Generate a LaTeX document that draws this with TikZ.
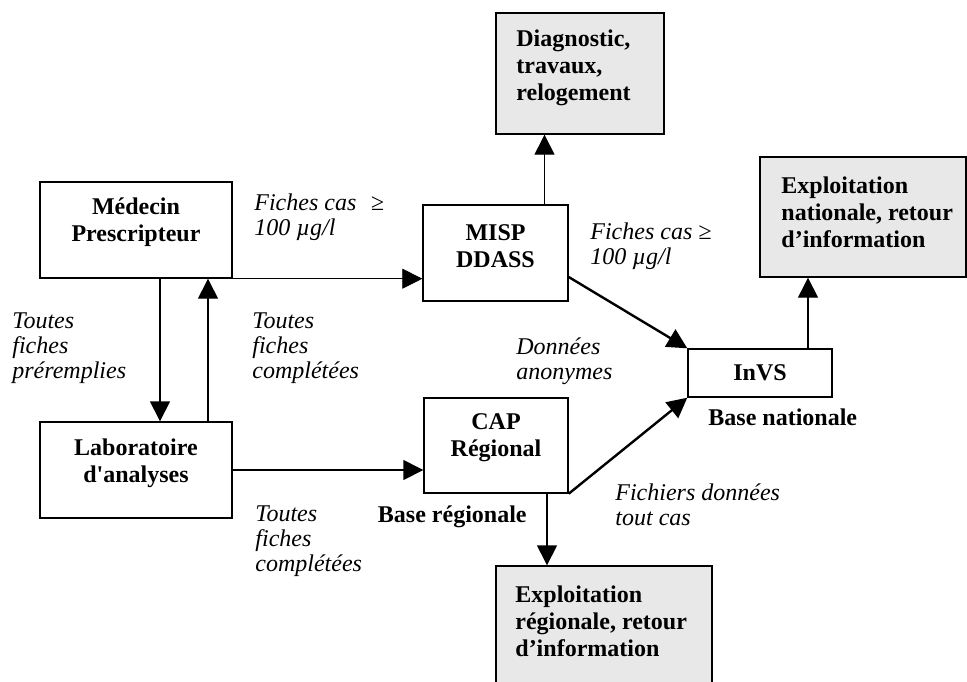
\documentclass[tikz,border=0pt]{standalone}
\usepackage{fontspec}
\setmainfont{Liberation Serif}
\usetikzlibrary{shapes}
\usetikzlibrary{calc}
\usetikzlibrary{arrows.meta}
\definecolor{boxgray}{HTML}{E8E8E8}

\begin{document}
\begin{tikzpicture}[x=0.5pt, y=-0.5pt,
  box/.style={draw, rectangle, line width=0.7pt, inner sep=0pt},
  greybox/.style={box, fill=boxgray},
  boxtext/.style={align=center, inner sep=0pt, font=\fontsize{12}{13.5}\selectfont\bfseries},
  greytext/.style={align=left, anchor=west, inner sep=0pt, font=\fontsize{12}{13.5}\selectfont\bfseries},
  lbl/.style={align=left, anchor=west, inner sep=0pt, font=\fontsize{12}{12.5}\selectfont\itshape},
  flow/.style={-{Triangle[length=10pt,width=10pt]}, line width=0.7pt}]

  \useasboundingbox (0,0) rectangle (967,681);
  \clip (0,0) rectangle (967,681);

  % left column
  \node[box, minimum width=96pt, minimum height=48pt] (medecin) at (136,230) {};
  \node[boxtext] (medecintxt) at (136,222) {Médecin\\Prescripteur};
  \node[box, minimum width=96pt, minimum height=48pt] (labo) at (136,470) {};
  \node[boxtext] (labotxt) at (136,463) {Laboratoire\\d\textquotesingle analyses};

  % middle column
  \node[box, minimum width=72.5pt, minimum height=48pt] (misp) at (495.5,253) {};
  \node[boxtext] (misptxt) at (495.5,246) {MISP\\DDASS};
  \node[box, minimum width=72pt, minimum height=47.5pt] (cap) at (496,445.5) {};
  \node[boxtext] (captxt) at (496,438) {CAP\\Régional};
  \node[greybox, minimum width=84pt, minimum height=60.5pt] (diag) at (580,73.5) {};
  \node[greytext] (diagtxt) at (516,68) {Diagnostic,\\travaux,\\relogement};
  \node[greybox, minimum width=108pt, minimum height=62pt] (explreg) at (604,628) {};
  \node[greytext] (explregtxt) at (515,621) {Exploitation\\régionale, retour\\d’information};

  % right column
  \node[box, minimum width=72pt, minimum height=24pt, font=\fontsize{12}{13.5}\selectfont\bfseries] (invs) at (760,373) {InVS};
  \node[greybox, minimum width=103pt, minimum height=60pt] (explnat) at (863,217) {};
  \node[greytext] (explnattxt) at (781,212) {Exploitation\\nationale, retour\\d’information};

  % labels
  \node[lbl] (fiches1) at (254,217) {Fiches cas\hspace{0.6em}≥\\100 µg/l};
  \node[lbl] (fiches2) at (590,246.5) {Fiches cas ≥\\100 µg/l};
  \node[lbl] (preremplies) at (12,348) {Toutes\\fiches\\préremplies};
  \node[lbl] (completees1) at (252,348) {Toutes\\fiches\\complétées};
  \node[lbl] (completees2) at (255,541) {Toutes\\fiches\\complétées};
  \node[lbl] (anonymes) at (516,361.5) {Données\\anonymes};
  \node[lbl] (fichiers) at (615,504.5) {Fichiers données\\tout cas};
  \node[inner sep=0pt, anchor=west, font=\fontsize{12}{13.5}\selectfont\bfseries] (basenat) at (708,417) {Base nationale};
  \node[inner sep=0pt, anchor=east, font=\fontsize{12}{13.5}\selectfont\bfseries] (basereg) at (527,517) {Base régionale};

  % arrows
  \path[flow, line width=0.4pt] (medecin.south east) edge (medecin.south east -| misp.west);
  \path[flow] ([xshift=12pt]medecin.south) edge ([xshift=12pt]labo.north);
  \path[flow] ([xshift=36pt]labo.north) edge ([xshift=36pt]medecin.south);
  \path[flow] (labo.east) edge (labo.east -| cap.west);
  \path[flow] ([xshift=24.5pt]misp.north) edge ([xshift=24.5pt]misp.north |- diag.south);
  \path[flow, line width=1.2pt] ([yshift=-12pt]misp.east) edge (invs.north west);
  \path[flow, line width=1.2pt] (cap.south east) edge (invs.south west);
  \path[flow] ([xshift=25.5pt]cap.south) edge ([xshift=25.5pt]cap.south |- explreg.north);
  \path[flow] ([xshift=24pt]invs.north) edge ([xshift=24pt]invs.north |- explnat.south);
\end{tikzpicture}
\end{document}
